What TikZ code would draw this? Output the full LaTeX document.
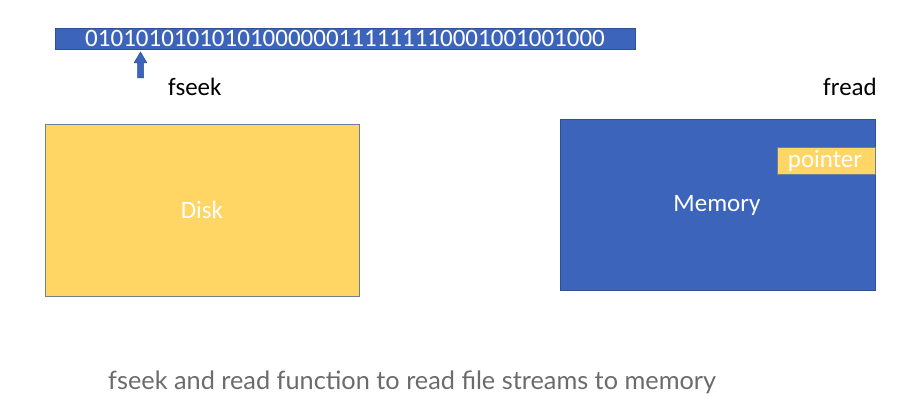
\documentclass[tikz,border=0pt]{standalone}
\usepackage{fontspec}
\setmainfont{Carlito}
\newfontfamily\capfont{Lato}
\definecolor{myblue}{HTML}{3B64BA}
\definecolor{myyellow}{HTML}{FFD564}
\definecolor{edgegray}{HTML}{6F7F9A}
\definecolor{capgray}{HTML}{6B6B6B}
\begin{document}
\begin{tikzpicture}[x=1pt,y=-1pt,
  box/.style={draw=edgegray,line width=0.8pt,inner sep=0pt,outer sep=0pt},
  wtext/.style={text=white,font=\fontsize{25}{28}\selectfont,inner sep=0pt},
  btext/.style={text=black,font=\fontsize{25}{28}\selectfont,inner sep=0pt}]
\useasboundingbox (0,0) rectangle (922,404);
% bit string bar
\draw[box,fill=myblue,draw=myblue!80!black] (55,28) rectangle (635,49);
\node[wtext] (bits) at (345,38.5) {01010101010101000000111111110001001001000};
% arrow
\fill[myblue,draw=myblue!80!black,line width=0.5pt] (137.5,78) -- (137.5,63) -- (134,63) -- (140.5,52) -- (147,63) -- (143.5,63) -- (143.5,78) -- cycle;
\node[btext,anchor=west] (fseek) at (168,87) {fseek};
\node[btext,anchor=east] (fread) at (877,87) {fread};
% disk
\draw[box,fill=myyellow] (45,124) rectangle (359,296);
\node[wtext] (disk) at (202,210) {Disk};
% memory
\draw[box,fill=myblue,draw=myblue!80!black] (560,119) rectangle (875,290);
\node[wtext] (mem) at (717,205) {Memory};
\draw[box,fill=myyellow,draw=edgegray] (777,147) rectangle (875,174);
\node[wtext] (ptr) at (825,160.5) {pointer};
% caption
\node[text=capgray,font=\capfont\fontsize{25.3}{30}\selectfont,inner sep=0pt,anchor=west] (cap) at (108,382) {fseek and read function to read file streams to memory};
\end{tikzpicture}
\end{document}
